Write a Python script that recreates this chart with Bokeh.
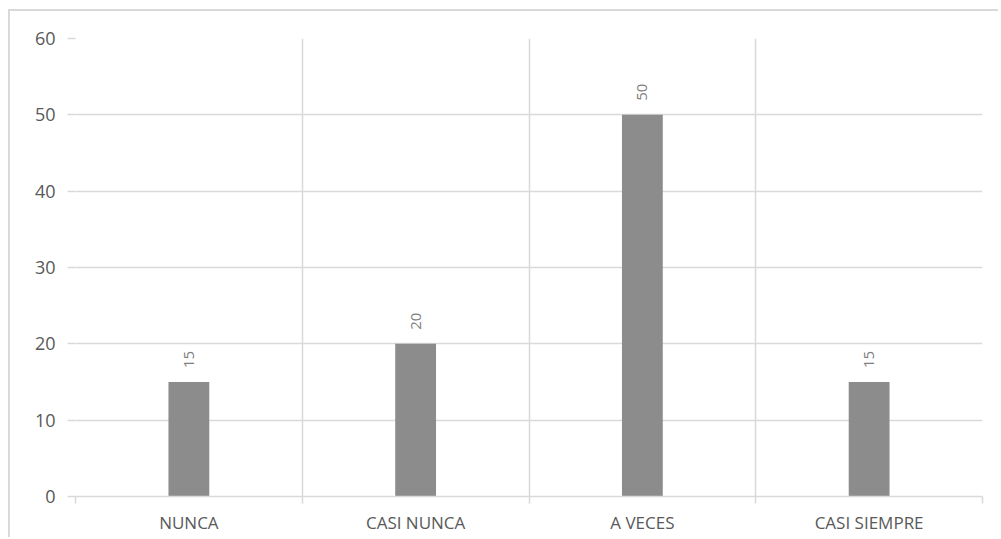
import math
from bokeh.plotting import figure
from bokeh.models import FixedTicker, ColumnDataSource, Range1d
from bokeh.core.properties import value
from bokeh.embed import file_html
from bokeh.resources import INLINE

categories = ["NUNCA", "CASI NUNCA", "A VECES", "CASI SIEMPRE"]
values = [15, 20, 50, 15]
y_ticks = [0, 10, 20, 30, 40, 50, 60]

n = len(categories)
xs = [i + 0.5 for i in range(n)]
bounds = list(range(n + 1))

src = ColumnDataSource(dict(x=xs, y=values, label=[str(v) for v in values]))

GRID = "#d9d9d9"
FONT = "Open Sans"

p = figure(width=990, height=528, output_backend="svg", toolbar_location=None,
           x_range=Range1d(0, n), y_range=Range1d(0, 60),
           min_border_left=65, min_border_top=27, min_border_right=18,
           min_border_bottom=43)
p.styles = {"border-top": "2px solid #d9d9d9", "border-left": "2px solid #d9d9d9",
            "margin-left": "8px", "margin-top": "9px"}
p.outline_line_color = None

p.vbar(x="x", top="y", width=0.18, source=src, fill_color="#8c8c8c", line_color=None)
p.text(x="x", y="y", text="label", source=src, angle=math.pi / 2,
       text_align="left", text_baseline="middle", y_offset=-14,
       text_color="#7f7f7f", text_font_size="15px", text_font=value(FONT))

# y axis
p.yaxis.ticker = FixedTicker(ticks=y_ticks)
p.yaxis.axis_line_color = None
p.yaxis.major_tick_out = 8
p.yaxis.major_tick_in = 0
p.yaxis.major_tick_line_color = GRID
p.yaxis.major_tick_line_width = 1.5
p.yaxis.minor_tick_line_color = None
p.yaxis.major_label_text_font = FONT
p.yaxis.major_label_text_font_size = "18px"
p.yaxis.major_label_text_color = "#595959"
p.yaxis.major_label_standoff = 12

# x axis
p.xaxis.ticker = FixedTicker(ticks=xs, minor_ticks=bounds)
p.xaxis.major_label_overrides = {x: c for x, c in zip(xs, categories)}
p.xaxis.axis_line_color = GRID
p.xaxis.axis_line_width = 1.5
p.xaxis.major_tick_out = 0
p.xaxis.major_tick_in = 0
p.xaxis.minor_tick_out = 7
p.xaxis.minor_tick_in = 0
p.xaxis.minor_tick_line_color = GRID
p.xaxis.minor_tick_line_width = 1.5
p.xaxis.major_label_text_font = FONT
p.xaxis.major_label_text_font_size = "17px"
p.xaxis.major_label_text_color = "#595959"
p.xaxis.major_label_standoff = 7

p.xgrid.ticker = FixedTicker(ticks=bounds)
p.xgrid.grid_line_color = GRID
p.xgrid.grid_line_width = 1.5
p.ygrid.grid_line_color = GRID
p.ygrid.grid_line_width = 1.5

open("out.html", "w").write(file_html(p, INLINE))
